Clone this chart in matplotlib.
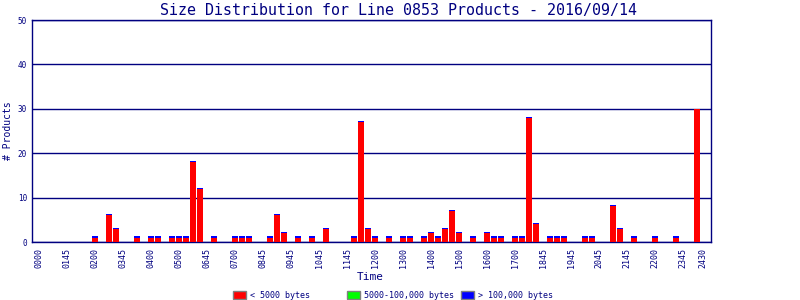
import matplotlib
matplotlib.use("Agg")
import matplotlib.pyplot as plt
from matplotlib.patches import Rectangle
import numpy as np

# counts per 15-minute slot, 0000 .. 2345 (12 slots per row)
small = [0, 0, 0, 0, 0, 0, 0, 0, 1, 0, 6, 3,
         0, 0, 1, 0, 1, 1, 0, 1, 1, 1, 18, 12,
         0, 1, 0, 0, 1, 1, 1, 0, 0, 1, 6, 2,
         0, 1, 0, 1, 0, 3, 0, 0, 0, 1, 27, 3,
         1, 0, 1, 0, 1, 1, 0, 1, 2, 1, 3, 7,
         2, 0, 1, 0, 2, 1, 1, 0, 1, 1, 28, 4,
         0, 1, 1, 1, 0, 0, 1, 1, 0, 0, 8, 3,
         0, 1, 0, 0, 1, 0, 0, 1, 0, 0, 30, 0]
medium = [0] * 96
# thin blue caps seen on top of the bars
large = [0, 0, 0, 0, 0, 0, 0, 0, .25, 0, .25, .25,
         0, 0, .25, 0, .25, .25, 0, .25, .25, .25, .25, .25,
         0, .25, 0, 0, .25, .25, .25, 0, 0, .25, .25, .25,
         0, .25, 0, .25, 0, .25, 0, 0, 0, .25, .25, .25,
         .25, 0, .25, 0, .25, .25, 0, .25, .25, .25, .25, .25,
         .25, 0, .25, 0, .25, .25, .25, 0, .25, .25, .25, .25,
         0, .25, .25, .25, 0, 0, .25, .25, 0, 0, .25, .25,
         0, .25, 0, 0, .25, 0, 0, .25, 0, 0, 0, 0]

tick_labels = ['0000', '0145', '0200', '0345', '0400', '0500', '0645', '0700',
               '0845', '0945', '1045', '1145', '1200', '1300', '1400', '1500',
               '1600', '1700', '1845', '1945', '2045', '2145', '2200', '2345',
               '2430']
legend_labels = ['< 5000 bytes', '5000-100,000 bytes', '> 100,000 bytes']
colors = ['#ff0000', '#00ff00', '#0000ff']

navy = '#000080'
mono = 'DejaVu Sans Mono'

fig = plt.figure(figsize=(8, 3), dpi=100)
ax = fig.add_axes([32/800, 58/300, 679/800, 222/300])

x = np.arange(len(small))
small = np.array(small)
medium = np.array(medium)
large = np.array(large)
w = 0.84
ax.bar(x, small, w, color=colors[0], linewidth=0, zorder=3)
ax.bar(x, medium, w, bottom=small, color=colors[1], linewidth=0, zorder=3)
ax.bar(x, large, w, bottom=small + medium, color=colors[2], linewidth=0, zorder=3)

ax.set_xlim(-1.03, 95.97)
ax.set_ylim(0, 50)
ax.set_yticks([0, 10, 20, 30, 40, 50])
ax.yaxis.grid(True, color=navy, linewidth=1.0, zorder=1)
ax.set_axisbelow(True)

xt = list(range(0, 96, 4)) + [94.8]
ax.set_xticks(xt)
ax.set_xticklabels(tick_labels, rotation=90, va='top', ha='center')
ax.tick_params(axis='x', length=0, pad=4.5, labelsize=6, labelcolor=navy)
ax.tick_params(axis='y', length=0, pad=3.5, labelsize=5.5, labelcolor=navy)
for lab in ax.get_xticklabels() + ax.get_yticklabels():
    lab.set_family(mono)
for s in ax.spines.values():
    s.set_color(navy)
    s.set_linewidth(1.0)

fig.text(398/800, 1 - 10/300, 'Size Distribution for Line 0853 Products - 2016/09/14',
         ha='center', va='center', color=navy, family=mono, fontsize=10.8)
fig.text(370/800, 1 - 277/300, 'Time', ha='center', va='center',
         color=navy, family=mono, fontsize=8)
fig.text(8/800, 1 - 131/300, '# Products', ha='center', va='center',
         rotation=90, color=navy, family=mono, fontsize=7)

# legend along the bottom
for i, (lab, c) in enumerate(zip(legend_labels, colors)):
    x0 = 233 + 114 * i
    fig.patches.append(Rectangle((x0/800, 1 - 299/300), 13/800, 8/300,
                                 transform=fig.transFigure, facecolor=c,
                                 edgecolor='#808080', linewidth=1))
    fig.text((x0 + 17)/800, 1 - 295/300, lab, ha='left', va='center',
             color=navy, family=mono, fontsize=6)

fig.savefig('out.png', dpi=100)
